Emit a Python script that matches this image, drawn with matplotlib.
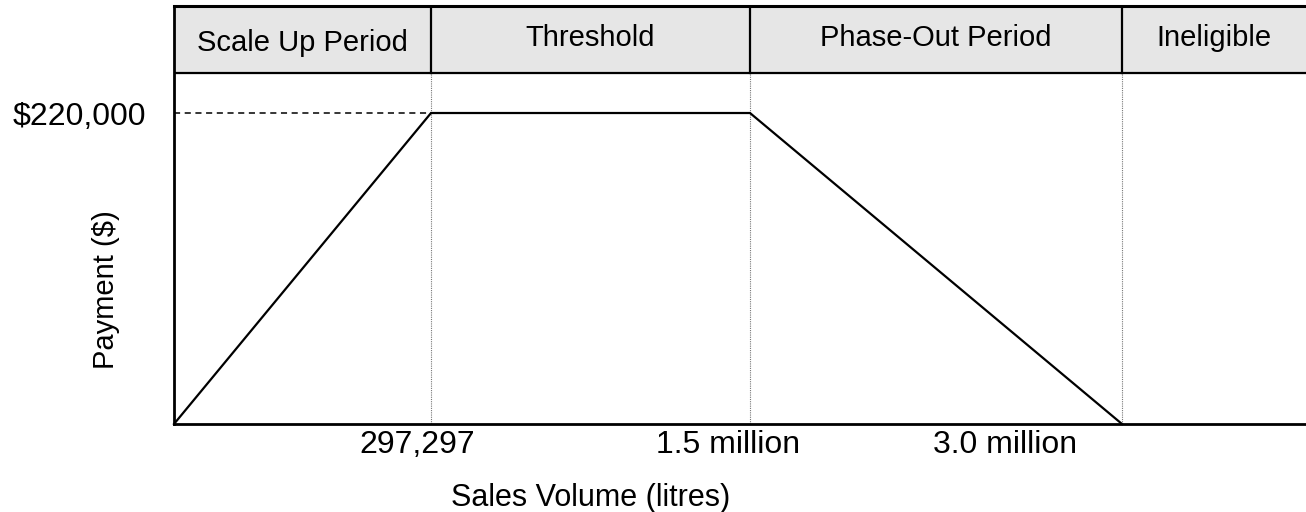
import matplotlib
matplotlib.use("Agg")
import matplotlib.pyplot as plt

# data
periods = ["Scale Up Period", "Threshold", "Phase-Out Period", "Ineligible"]
volume_labels = ["297,297", "1.5 million", "3.0 million"]
payment = [0, 220000, 220000, 0]
max_payment = 220000

# schematic layout: breakpoints along the x axis (not to scale)
break_x = [0, 257, 576, 948]
x_end = 1132
label_x = [243, 554, 831]   # tick labels sit a little left of the lines
header_lo, y_top = 248300, 295700
px = max_payment / 311.0    # one pixel in data units (vertical)

plt.rcParams["font.family"] = ["Liberation Sans", "DejaVu Sans"]

fig = plt.figure(figsize=(13.06, 5.12), dpi=100)
ax = fig.add_axes([174 / 1306, 1 - 424 / 512, 1 - 174 / 1306, 418 / 512])

# payment schedule line
ax.plot(break_x, payment, color="black", lw=1.6, solid_joinstyle="miter", clip_on=False, zorder=4)

# dashed guide to the max payment
ax.plot([0, break_x[1]], [max_payment, max_payment], color="black", lw=1.1, ls=(0, (4, 3)), zorder=3)

# header band with period names
ax.axhspan(header_lo, y_top, color="#e6e6e6", zorder=1)
ax.axhline(header_lo, color="black", lw=1.6, zorder=3)
ax.axhline(y_top, color="black", lw=2.2, zorder=3, clip_on=False)
edges = break_x + [x_end]
for i, p in enumerate(periods):
    cx = (edges[i] + edges[i + 1]) / 2
    dy = 0 if i == 0 else 5 * px
    ax.text(cx, (header_lo + y_top) / 2 + dy, p, ha="center", va="center_baseline", fontsize=21, zorder=5)

# dividers: solid in the header, dotted in the plot area
for bx in break_x[1:]:
    ax.plot([bx, bx], [header_lo, y_top], color="black", lw=1.6, zorder=3)
    ax.plot([bx, bx], [0, header_lo], color="#777777", lw=0.8, ls=(0, (1, 1)), zorder=2)

ax.set_xlim(0, x_end)
ax.set_ylim(0, y_top)

for s in ["top", "right"]:
    ax.spines[s].set_visible(False)
for s in ["left", "bottom"]:
    ax.spines[s].set_linewidth(2)

ax.set_xticks([])
ax.set_yticks([max_payment])
ax.set_yticklabels(["${:,.0f}".format(max_payment)], fontsize=23)
ax.tick_params(axis="y", length=0, pad=20)

for lx, lab in zip(label_x, volume_labels):
    ax.text(lx, -29 * px, lab, ha="center", va="baseline", fontsize=23)

fig.text(591 / 1306, 1 - 506 / 512, "Sales Volume (litres)", ha="center", va="baseline", fontsize=22)
fig.text(106 / 1306, 1 - 290 / 512, "Payment ($)", ha="center", va="center", rotation=90, fontsize=21)

fig.savefig("out.png", dpi=100)
